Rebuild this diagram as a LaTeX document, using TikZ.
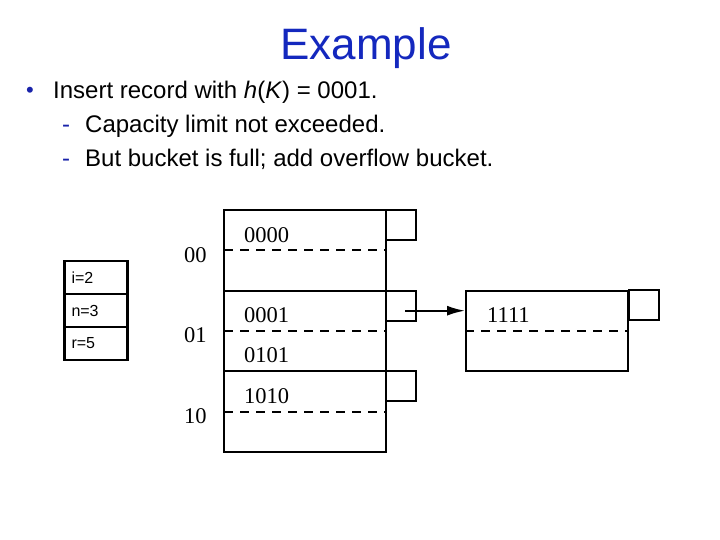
\documentclass[tikz,border=0pt]{standalone}
\usepackage{fontspec}
\setmainfont{Liberation Sans}
\newfontfamily\bucketfont{Liberation Serif}
\usetikzlibrary{arrows.meta}
\definecolor{titleblue}{RGB}{20,40,190}
\definecolor{markblue}{RGB}{25,35,170}
\begin{document}
\begin{tikzpicture}[x=1pt,y=-1pt,every node/.style={inner sep=0pt},
  rec/.style={font=\bucketfont\fontsize{22.5}{22.5}\selectfont,anchor=base west},
  line/.style={font=\fontsize{24}{28}\selectfont,anchor=base west},
  dirbox/.style={draw,line width=2.5pt,text width=55pt,inner xsep=4pt,minimum height=33pt,align=left,font=\fontsize{16}{16}\selectfont}]
\useasboundingbox (0,0) rectangle (720,540);
% title and bullets
\node[font=\fontsize{44}{44}\selectfont,text=titleblue,anchor=base] (title) at (366,60) {Example};
\node[line,text=markblue,font=\fontsize{22}{24}\selectfont] (dot) at (26,98) {\textbullet};
\node[line] (l1) at (53,99) {Insert record with \textit{h}(\textit{K}) = 0001.};
\node[line,text=markblue] (d2) at (62,133) {-};
\node[line] (l2) at (85,133) {Capacity limit not exceeded.};
\node[line,text=markblue] (d3) at (62,167) {-};
\node[line] (l3) at (85,167) {But bucket is full; add overflow bucket.};
% directory values
\foreach \k/\t in {1/i=2,2/n=3,3/r=5} {
  \pgfmathsetmacro{\y}{261+33*(\k-0.5)}
  \node[dirbox] (v\k) at (96,\y) {\hspace*{3pt}\t};
}
% primary buckets with pointer boxes
\foreach \i/\b in {0/00,1/01,2/10} {
  \pgfmathsetmacro{\y}{210+80.6*\i}
  \draw[line width=2pt] (224,\y) rectangle (386,\y+80.6);
  \draw[line width=2pt] (386,\y) rectangle (416,\y+30);
  \draw[line width=2pt,dash pattern=on 9pt off 7pt] (224,\y+40.3)--(386,\y+40.3);
  \node[rec] (b\b) at (184,\y+52) {\b};
}
\foreach \r/\y in {0000/242,0001/322,0101/362,1010/403} {
  \node[rec] (r\r) at (244,\y) {\r};
}
% overflow bucket
\node[draw,line width=2pt,minimum width=162pt,minimum height=80pt] (ovf) at (547,330.7) {};
\draw[line width=2pt,dash pattern=on 9pt off 7pt] (ovf.west)--(ovf.east);
\draw[line width=2pt] (ovf.north east) rectangle ++(30,30);
\node[rec] (r1111) at (487,322) {1111};
\coordinate (ptr) at (405,310.7);
\draw[line width=2pt,-{Latex[length=18pt,width=10pt]}] (ptr) -- (ovf.west |- ptr);
\end{tikzpicture}
\end{document}
